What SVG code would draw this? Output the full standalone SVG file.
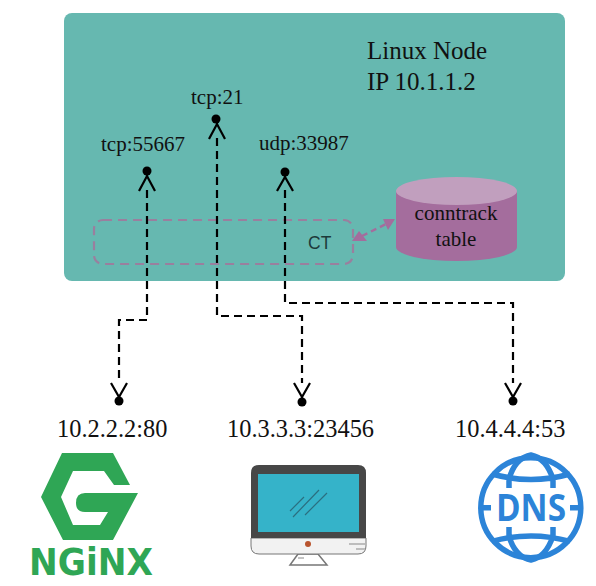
<svg xmlns="http://www.w3.org/2000/svg" width="596" height="586" viewBox="0 0 596 586">
<style>
.s{font-family:"Liberation Serif","Times New Roman",serif;fill:#111}
.flow{fill:none;stroke:#000;stroke-width:2.2;stroke-dasharray:8 5}
.v{fill:none;stroke:#000;stroke-width:2.2}
.d{fill:#000}
.g{fill:none;stroke:#2c84d8;stroke-width:5.5}
</style>
<rect width="596" height="586" fill="#fff"/>
<g id="linux-node">
<rect x="64" y="13" width="501" height="268" rx="8" fill="#66b8b0"/>
<text class="s" x="367" y="59" font-size="25">Linux Node</text>
<text class="s" x="367" y="90" font-size="25">IP 10.1.1.2</text>
</g>
<g id="ct">
<rect x="94" y="220" width="259" height="44" rx="9" fill="none" stroke="#9a7f9e" stroke-width="2.2" stroke-dasharray="9 6"/>
<text x="308" y="249" font-size="17.500" font-family="Liberation Sans,Arial,sans-serif" fill="#1d3a3a">CT</text>
</g>
<g id="conntrack-table">
<path d="M396 191V247A60.500 14 0 0 0 517 247V191Z" fill="#a46d9d"/>
<ellipse cx="456.500" cy="191" rx="60.500" ry="14" fill="#c19fbe"/>
<text class="s" x="456" y="220" font-size="21" text-anchor="middle">conntrack</text>
<text class="s" x="456" y="246" font-size="21" text-anchor="middle">table</text>
</g>
<g id="connectors">
<path class="flow" d="M147 190V320H119V383"/>
<path class="flow" d="M217 138V316H302V383"/>
<path class="flow" d="M285 190V303H513V383"/>
<path d="M362 236L386 224" fill="none" stroke="#a46d9d" stroke-width="2.400" stroke-dasharray="6 4"/>
<path d="M352 241L367 241L359 231Z M395 219L383 219L388 230Z" fill="#a46d9d"/>
<path class="v" d="M139 191L147 176L155 191M147 172V178M209 139L217 124L225 139M217 120V126M277 191L285 177L293 191M285 173V179M111 383L119 397L127 383M119 395V401M294 383L302 397L310 383M302 395V401M505 383L513 397L521 383M513 395V401"/>
</g>
<g id="tcp-55667"><circle class="d" cx="147" cy="171" r="4.500"/><text class="s" x="101" y="151" font-size="21">tcp:55667</text></g>
<g id="tcp-21"><circle class="d" cx="216" cy="119" r="4.500"/><text class="s" x="191" y="104" font-size="21">tcp:21</text></g>
<g id="udp-33987"><circle class="d" cx="285" cy="172" r="4.500"/><text class="s" x="259" y="150" font-size="21">udp:33987</text></g>
<g id="nginx">
<circle class="d" cx="119" cy="401" r="4.500"/>
<text class="s" x="57" y="437" font-size="24.400">10.2.2.2:80</text>
<path d="M62 453H113L130 485H114L104 471H73L61 497L73 525H100L108 512H85Q76 512 76 503Q76 493 85 493H138L113 540H63L41 497Z" fill="#2fa655"/>
<text x="29" y="575" font-size="37" font-weight="bold" font-family="DejaVu Sans,sans-serif" fill="#2fa655" textLength="124" lengthAdjust="spacingAndGlyphs">NGiNX</text>
</g>
<g id="computer">
<circle class="d" cx="302" cy="402" r="4.500"/>
<text class="s" x="227" y="437" font-size="24.400">10.3.3.3:23456</text>
<path d="M298 554L290 565H327L318 554Z" fill="#fff" stroke="#777" stroke-width="1.500"/>
<path d="M251 538H366V546Q366 554 358 554H259Q251 554 251 546Z" fill="#f2f2f2" stroke="#777" stroke-width="1"/>
<path d="M251 538V473Q251 465 259 465H358Q366 465 366 473V538Z" fill="#474747"/>
<rect x="258" y="474" width="101" height="58" fill="#35b3c9"/>
<path d="M290 511L304 497M293 517L319 490M305 515L327 493" stroke="#2b6f80" stroke-width="1.200" fill="none"/>
<circle cx="308" cy="544" r="3" fill="#b9552f"/>
<path d="M349 544H365M356 549H365M298 558H304" stroke="#888" stroke-width="1" fill="none"/>
</g>
<g id="dns">
<circle class="d" cx="513" cy="401" r="4.500"/>
<text class="s" x="455" y="437" font-size="24.400">10.4.4.4:53</text>
<circle class="g" cx="530.800" cy="507.700" r="50"/>
<path class="g" d="M492 474Q531 485 570 474M492 541.400Q531 530.400 570 541.400M509 488V479Q515 458 531 455Q546 458 553 479V488M509 527V536Q515 557 531 560Q546 557 553 536V527M481 507.700H491M570 507.700H580"/>
<text x="531" y="521" font-size="37" font-weight="bold" text-anchor="middle" font-family="Open Sans,Liberation Sans,sans-serif" fill="#2c84d8" textLength="70" lengthAdjust="spacingAndGlyphs">DNS</text>
</g>
</svg>
